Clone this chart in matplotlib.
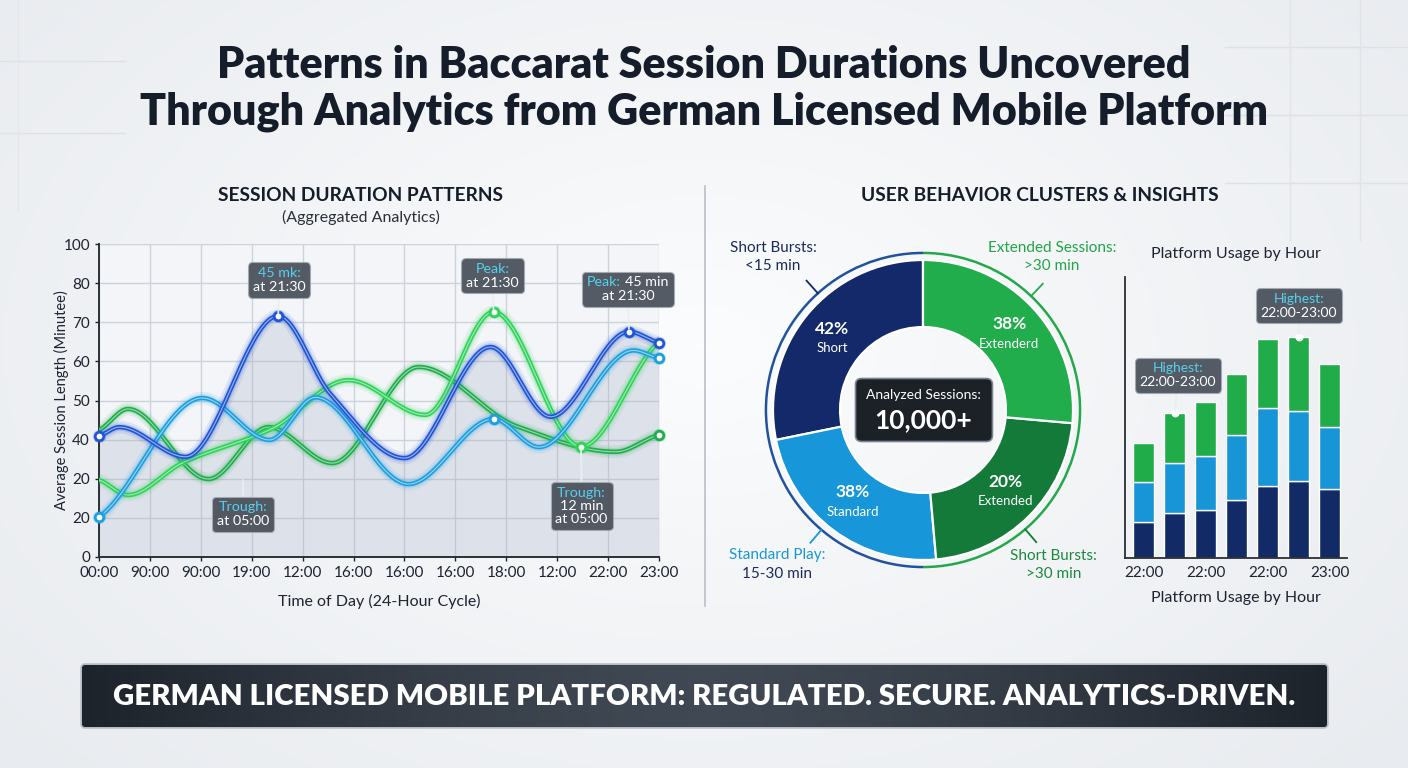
import numpy as np
import matplotlib
matplotlib.use('Agg')
import matplotlib.pyplot as plt
from matplotlib.patches import FancyBboxPatch, Arc
from matplotlib.offsetbox import TextArea, VPacker, HPacker, AnnotationBbox
import matplotlib.colors as mcolors

# ---- data ----
hour_labels = ['00:00', '90:00', '90:00', '19:00', '12:00', '16:00',
               '16:00', '16:00', '18:00', '12:00', '22:00', '23:00']
y_tick_labels = ['0', '20', '20', '40', '50', '60', '70', '80', '100']

blue_x = [0, 0.4, 1.7, 3.52, 4.55, 6.0, 7.69, 8.87, 10.41, 11]
blue_y = [38.7, 41.5, 32.0, 77.0, 52.0, 31.6, 67.1, 44.8, 72.0, 68.5]
sky_x = [0, 2.03, 3.35, 4.25, 6.08, 7.75, 8.64, 10.5, 11]
sky_y = [12.8, 50.8, 37.4, 51.0, 23.3, 44.1, 35.1, 66.0, 63.5]
emerald_x = [0, 0.57, 2.15, 3.33, 4.58, 6.28, 8.2, 10.15, 11]
emerald_y = [40.6, 47.3, 24.9, 41.5, 30.0, 60.7, 41.8, 33.6, 39.0]
lime_x = [0, 0.57, 1.63, 3.4, 4.9, 6.41, 7.75, 9.47, 11]
lime_y = [24.6, 19.8, 30.0, 41.0, 56.5, 45.4, 78.3, 35.2, 68.7]

cluster_names = ['Short', 'Standard', 'Extended', 'Extenderd']
cluster_share = [28.2, 23.2, 22.2, 26.4]          # drawn wedge sizes
cluster_pct_labels = ['42%', '38%', '20%', '38%']  # printed labels

bar_hours = ['22:00', '', '22:00', '', '22:00', '', '23:00']
bar_navy = [10.8, 13.5, 14.3, 17.3, 21.8, 23.3, 20.7]
bar_sky = [12.2, 15.2, 16.5, 19.6, 23.2, 21.0, 18.8]
bar_green = [11.5, 14.8, 16.0, 18.4, 21.0, 22.2, 18.7]

W, H = 1408, 768
FONT = 'Lato'
DARK = '#161d2a'
NAVY = '#13296a'
BLUE = '#1f55d6'
SKY = '#1c9fe0'
EMERALD = '#1fae4c'
LIME = '#2fd35a'
DKGREEN = '#137a3a'
CYAN = '#55d0ef'

plt.rcParams['font.family'] = [FONT, 'DejaVu Sans']


def rect(x0, y0, x1, y1):
    return [x0 / W, 1 - y1 / H, (x1 - x0) / W, (y1 - y0) / H]


def pchip(x, y, xs):
    x = np.asarray(x, float)
    y = np.asarray(y, float)
    h = np.diff(x)
    d = np.diff(y) / h
    m = np.zeros_like(y)
    for k in range(1, len(y) - 1):
        if d[k - 1] * d[k] > 0:
            w1 = 2 * h[k] + h[k - 1]
            w2 = h[k] + 2 * h[k - 1]
            m[k] = (w1 + w2) / (w1 / d[k - 1] + w2 / d[k])
    m[0] = d[0] * 0.6
    m[-1] = d[-1] * 0.6
    idx = np.clip(np.searchsorted(x, xs) - 1, 0, len(x) - 2)
    t = (xs - x[idx]) / h[idx]
    h00 = 2 * t**3 - 3 * t**2 + 1
    h10 = t**3 - 2 * t**2 + t
    h01 = -2 * t**3 + 3 * t**2
    h11 = t**3 - t**2
    return h00 * y[idx] + h10 * h[idx] * m[idx] + h01 * y[idx + 1] + h11 * h[idx] * m[idx + 1]


def callout(ax, xy, xybox, lines, fs=10.3, pointer=True):
    rows = []
    for parts in lines:
        areas = [TextArea(t, textprops=dict(color=c, fontsize=fs, family=FONT)) for t, c in parts]
        rows.append(HPacker(children=areas, align='baseline', pad=0, sep=3))
    box = VPacker(children=rows, align='center', pad=0, sep=1)
    ab = AnnotationBbox(box, xy, xybox=xybox, xycoords='data', boxcoords='data',
                        frameon=True, pad=0.35, annotation_clip=False,
                        bboxprops=dict(boxstyle='round,pad=0.35,rounding_size=0.3', fc='#4a515b',
                                       ec='#a3aab4', lw=0.8, alpha=0.94),
                        arrowprops=dict(arrowstyle='-', color='#e9eef3', lw=1.3,
                                        shrinkA=0, shrinkB=2) if pointer else None)
    ab.set_zorder(20)
    ax.add_artist(ab)


fig = plt.figure(figsize=(W / 100, H / 100), dpi=100)

# ---- background ----
bg = fig.add_axes([0, 0, 1, 1])
bg.set_axis_off()
gy, gx = np.mgrid[0:1:200j, 0:1:360j]
grad = np.sqrt(((gx - 0.5) / 0.75) ** 2 + ((gy - 0.45) / 0.9) ** 2)
bg_cmap = mcolors.LinearSegmentedColormap.from_list('bg', ['#fbfcfd', '#e8ebef'])
bg.imshow(grad, cmap=bg_cmap, extent=[0, W, H, 0], aspect='auto', zorder=0)
bg.set_xlim(0, W)
bg.set_ylim(H, 0)

# faint decorative grid lines
for yy in [61, 133]:
    bg.plot([0, 125], [yy, yy], color='#dde1e6', lw=1)
for yy in [47, 115, 183]:
    bg.plot([1225, W], [yy, yy], color='#dde1e6', lw=1)
for xx in [1290, 1360]:
    bg.plot([xx, xx], [0, 240], color='#e0e3e8', lw=1)
bg.plot([18, 18], [0, 210], color='#e3e6ea', lw=1)

bg.text(704, 78, 'Patterns in Baccarat Session Durations Uncovered', ha='center', va='baseline',
        fontsize=31, fontweight='heavy', color=DARK)
bg.text(704, 124, 'Through Analytics from German Licensed Mobile Platform', ha='center', va='baseline',
        fontsize=31, fontweight='heavy', color=DARK)

bg.text(361, 201, 'SESSION DURATION PATTERNS', ha='center', va='baseline',
        fontsize=13.8, fontweight='bold', color=DARK)
bg.text(361, 222, '(Aggregated Analytics)', ha='center', va='baseline', fontsize=11.5, color='#2a2f38')
bg.text(1040, 201, 'USER BEHAVIOR CLUSTERS & INSIGHTS', ha='center', va='baseline',
        fontsize=13.8, fontweight='bold', color=DARK)
bg.plot([705, 705], [186, 606], color='#b9bfc8', lw=1.2)

# banner
banner = FancyBboxPatch((82, 665), 1245, 62, boxstyle='round,pad=0,rounding_size=3',
                        fc='#2a313b', ec='#b5bbc3', lw=2.5, zorder=2)
bg.add_patch(banner)
bx = np.linspace(-1, 1, 300)
band = np.tile(1 - np.abs(bx) ** 1.5, (20, 1))
ban_cmap = mcolors.LinearSegmentedColormap.from_list('ban', ['#1d232b', '#404853'])
im = bg.imshow(band, cmap=ban_cmap, extent=[82, 1327, 727, 665], aspect='auto', zorder=3)
im.set_clip_path(banner)
bg.text(704, 697, 'GERMAN LICENSED MOBILE PLATFORM: REGULATED. SECURE. ANALYTICS-DRIVEN.',
        ha='center', va='center', fontsize=21.2, fontweight='heavy', color='white', zorder=4)

# ---- left: line chart ----
ax = fig.add_axes(rect(99, 244, 659, 557))
ax.set_facecolor('#f3f5f8')
ax.set_xlim(0, 11)
ax.set_ylim(0, 100)
ax.set_xticks(range(12))
ax.set_xticklabels(hour_labels)
ax.set_yticks(np.linspace(0, 100, 9))
ax.set_yticklabels(y_tick_labels)
ax.tick_params(labelsize=11, colors='#1d2330', length=3, width=1)
ax.grid(color='#cdd2da', lw=1)
ax.set_axisbelow(True)
for s in ['top', 'right']:
    ax.spines[s].set_visible(False)
for s in ['left', 'bottom']:
    ax.spines[s].set_color('#2b2f36')
    ax.spines[s].set_linewidth(1.4)
ax.set_xlabel('Time of Day (24-Hour Cycle)', fontsize=11.5, color='#1d2330', labelpad=10)
ax.set_ylabel('Average Session Length (Minutee)', fontsize=10.5, color='#1d2330', labelpad=-4)

xs = np.linspace(0, 11, 600)
series = [
    (emerald_x, emerald_y, EMERALD, [8]),
    (lime_x, lime_y, LIME, [6, 7]),
    (sky_x, sky_y, SKY, [0, 5, 8]),
    (blue_x, blue_y, BLUE, [0, 3, 8, 9]),
]
blue_s = pchip(blue_x, blue_y, xs)
ax.fill_between(xs, 0, blue_s, color='#9ea9c0', alpha=0.25, lw=0, zorder=1)
for i, (sx, sy, col, marks) in enumerate(series):
    ys = pchip(sx, sy, xs)
    z = 3 + i
    ax.plot(xs, ys, color=col, lw=9, alpha=0.10, solid_capstyle='round', zorder=z)
    ax.plot(xs, ys, color=col, lw=5.5, alpha=0.18, solid_capstyle='round', zorder=z)
    ax.plot(xs, ys, color=col, lw=3.2, solid_capstyle='round', zorder=z)
    ax.plot(xs, ys, color='white', lw=0.8, alpha=0.55, zorder=z)
    mx = [sx[k] for k in marks]
    my = [sy[k] for k in marks]
    ax.scatter(mx, my, s=90, color=col, alpha=0.25, lw=0, zorder=10, clip_on=False)
    ax.scatter(mx, my, s=38, facecolor='white', edgecolor=col, lw=2, zorder=11, clip_on=False)

callout(ax, (blue_x[3], blue_y[3]), (3.54, 88.5), [[('45 mk:', CYAN)], [('at 21:30', 'white')]])
callout(ax, (lime_x[6], lime_y[6]), (7.73, 89.8), [[('Peak:', CYAN)], [('at 21:30', 'white')]])
callout(ax, (blue_x[8], blue_y[8]), (10.39, 85.6), [[('Peak:', CYAN), ('45 min', 'white')],
                                                  [('at 21:30', 'white')]])
callout(ax, (2.83, 25.5), (2.83, 13.7), [[('Trough:', CYAN)], [('at 05:00', 'white')]])
callout(ax, (lime_x[7], lime_y[7]), (9.48, 16.3), [[('Trough:', CYAN)], [('12 min', 'white')],
                                                  [('at 05:00', 'white')]])

# ---- middle: donut ----
dax = fig.add_axes(rect(713, 200, 1133, 620))
dax.set_axis_off()
donut_colors = [NAVY, '#1796d9', DKGREEN, '#21ad4b']
wedges, _ = dax.pie(cluster_share, colors=donut_colors, startangle=90, counterclock=True,
                    radius=1.0, wedgeprops=dict(width=0.447, edgecolor='white', linewidth=1.6))
dax.set_xlim(-1.4, 1.4)
dax.set_ylim(-1.4, 1.4)
dax.set_aspect('equal')
for w, name, pct in zip(wedges, cluster_names, cluster_pct_labels):
    ang = np.deg2rad((w.theta1 + w.theta2) / 2)
    px, py = 0.78 * np.cos(ang), 0.76 * np.sin(ang)
    dax.text(px, py + 0.06, pct, ha='center', va='center', fontsize=12.5, fontweight='bold', color='white')
    dax.text(px, py - 0.07, name, ha='center', va='center', fontsize=9.5, color='white')

dax.add_patch(Arc((0, 0), 2.094, 2.094, theta1=90, theta2=270, color='#22529f', lw=1.8))
dax.add_patch(Arc((0, 0), 2.094, 2.094, theta1=-90, theta2=90, color='#23a84a', lw=1.8))
for ang, col in [(132, NAVY), (46.5, '#23a84a'), (229.7, '#1796d9'), (-49.4, DKGREEN)]:
    a = np.deg2rad(ang)
    dax.plot([1.047 * np.cos(a), 1.16 * np.cos(a)], [1.047 * np.sin(a), 1.16 * np.sin(a)],
             color=col, lw=1.3)

dax.text(-1.0, 1.08, 'Short Bursts:', ha='center', va='center', fontsize=11, color='#1a2a5a')
dax.text(-1.0, 0.96, '<15 min', ha='center', va='center', fontsize=11, color='#1a2a5a')
dax.text(0.86, 1.08, 'Extended Sessions:', ha='center', va='center', fontsize=11, color='#22a447')
dax.text(0.86, 0.96, '>30 min', ha='center', va='center', fontsize=11, color='#22a447')
dax.text(-0.97, -0.97, 'Standard Play:', ha='center', va='center', fontsize=11, color='#1a97d6')
dax.text(-0.97, -1.09, '15-30 min', ha='center', va='center', fontsize=11, color='#1a2a5a')
dax.text(0.87, -0.97, 'Short Bursts:', ha='center', va='center', fontsize=11, color='#1b8a3c')
dax.text(0.87, -1.09, '>30 min', ha='center', va='center', fontsize=11, color='#1b8a3c')

dax.add_patch(FancyBboxPatch((-0.43, -0.19), 0.873, 0.38, boxstyle='round,pad=0.02,rounding_size=0.04',
                             fc='#1c2128', ec='#7c848f', lw=1.2, zorder=5))
dax.text(0.0, 0.1, 'Analyzed Sessions:', ha='center', va='center', fontsize=10, color='white', zorder=6)
dax.text(0.0, -0.07, '10,000+', ha='center', va='center', fontsize=19, fontweight='bold',
         color='white', zorder=6)

# ---- right: stacked bars ----
bax = fig.add_axes(rect(1125, 277, 1347, 558))
bax.set_facecolor('none')
bx_pos = np.arange(len(bar_navy))
nav = np.array(bar_navy)
sk = np.array(bar_sky)
gr = np.array(bar_green)
bax.bar(bx_pos, nav, width=0.68, color='#122a66', edgecolor='white', lw=1)
bax.bar(bx_pos, sk, width=0.68, bottom=nav, color='#1795d6', edgecolor='white', lw=1)
bax.bar(bx_pos, gr, width=0.68, bottom=nav + sk, color='#21ac4a', edgecolor='white', lw=1)
bax.set_xlim(-0.61, 6.55)
bax.set_ylim(0, 84.5)
bax.set_yticks([])
bax.set_xticks(bx_pos)
bax.set_xticklabels(bar_hours)
bax.tick_params(axis='x', length=0, labelsize=11, colors='#1d2330', pad=6)
for s in ['top', 'right']:
    bax.spines[s].set_visible(False)
for s in ['left', 'bottom']:
    bax.spines[s].set_color('#2b2f36')
    bax.spines[s].set_linewidth(1.3)
bax.set_title('Platform Usage by Hour', fontsize=11.5, color='#1d2330', pad=14)
bax.set_xlabel('Platform Usage by Hour', fontsize=11.5, color='#1d2330', labelpad=8)

tot = nav + sk + gr
for k, boxy in [(1, 55.0), (5, 75.8)]:
    bax.scatter([k], [tot[k]], s=22, color='white', zorder=12, clip_on=False)
    callout(bax, (k, tot[k]), (k + (0.1 if k == 1 else 0.0), boxy),
            [[('Highest:', CYAN)], [('22:00-23:00', 'white')]], fs=10)

fig.savefig('out.png', dpi=100)
